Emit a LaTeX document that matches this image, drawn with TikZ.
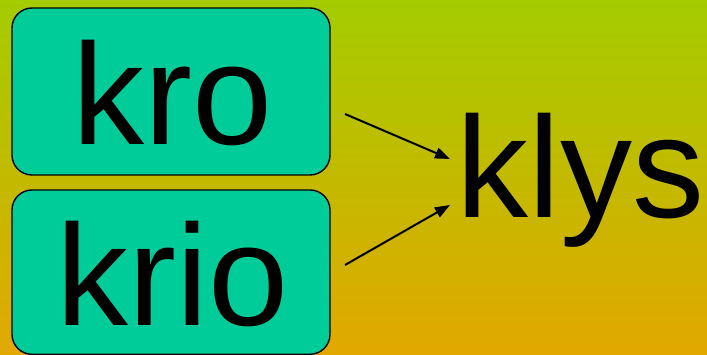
\documentclass[tikz,border=0pt]{standalone}
\usepackage{fontspec}
\setmainfont{Liberation Sans}
\usetikzlibrary{arrows.meta}
\definecolor{bgtop}{RGB}{164,204,0}
\definecolor{bgbot}{RGB}{226,168,0}
\definecolor{boxfill}{RGB}{0,204,153}
\begin{document}
\begin{tikzpicture}[x=1pt,y=1pt,
  wordbox/.style={draw=black,line width=1.4pt,fill=boxfill,rounded corners=20pt},
  bigword/.style={font=\fontsize{144}{144}\selectfont,anchor=base,inner sep=0pt},
  link/.style={line width=2pt,-{Triangle[length=15pt,width=11pt]}}]
  \shade[top color=bgtop,bottom color=bgbot] (0,0) rectangle (707,355);
  \useasboundingbox (0,0) rectangle (707,355);
  \draw[wordbox] (12,180) rectangle (330,347);
  \draw[wordbox] (12,0.7) rectangle (330,165);
  \node[bigword] (kro) at (172.5,210) {kro};
  \node[bigword] (krio) at (173,29) {krio};
  \node[bigword] (klys) at (580.5,137) {klys};
  \coordinate (s1) at (345,241);
  \coordinate (e1) at (450,196);
  \coordinate (s2) at (345,90);
  \coordinate (e2) at (450,150);
  \draw[link] (s1) -- (e1);
  \draw[link] (s2) -- (e2);
\end{tikzpicture}
\end{document}
